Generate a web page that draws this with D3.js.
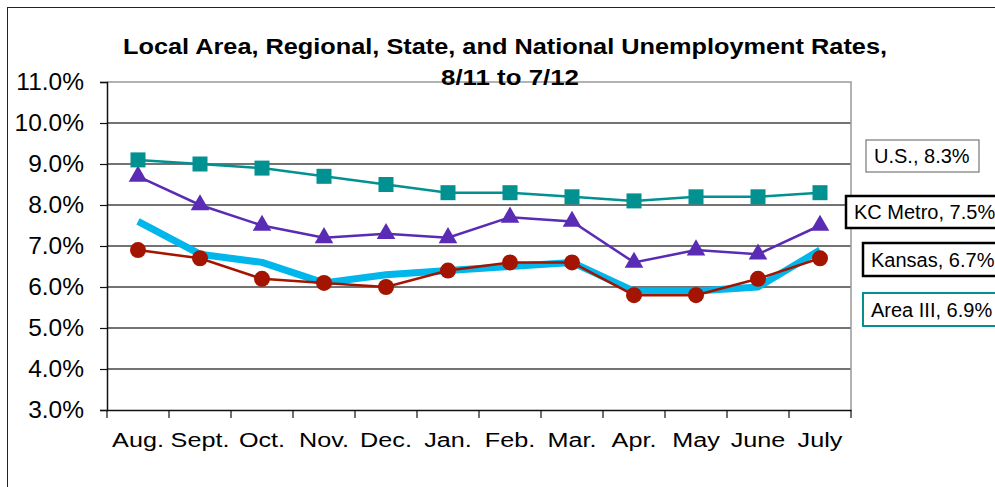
<!DOCTYPE html>
<html>
<head>
<meta charset="utf-8">
<script src="https://cdn.jsdelivr.net/npm/d3@7"></script>
<style>
body { margin: 0; background: #fff; }
text { font-family: "Liberation Sans", Arial, sans-serif; }
</style>
</head>
<body>
<svg id="chart"></svg>
<script>
var months = ["Aug.", "Sept.", "Oct.", "Nov.", "Dec.", "Jan.", "Feb.", "Mar.", "Apr.", "May", "June", "July"];
var usRate  = [9.1, 9.0, 8.9, 8.7, 8.5, 8.3, 8.3, 8.2, 8.1, 8.2, 8.2, 8.3];
var kcMetro = [8.7, 8.0, 7.5, 7.2, 7.3, 7.2, 7.7, 7.6, 6.6, 6.9, 6.8, 7.5];
var kansas  = [6.9, 6.7, 6.2, 6.1, 6.0, 6.4, 6.6, 6.6, 5.8, 5.8, 6.2, 6.7];
var areaIII = [7.6, 6.8, 6.6, 6.1, 6.3, 6.4, 6.5, 6.6, 5.9, 5.9, 6.0, 6.9];
var yTicks = [3, 4, 5, 6, 7, 8, 9, 10, 11];

var W = 995, H = 487;
var svg = d3.select("#chart").attr("width", W).attr("height", H);

// outer frame (runs off the right and bottom)
svg.append("rect")
    .attr("x", 7.5).attr("y", 7.5)
    .attr("width", W + 20).attr("height", H + 20)
    .attr("fill", "#fff").attr("stroke", "#222").attr("stroke-width", 1);

var x = d3.scaleBand().domain(months).range([107, 851]);
var y = d3.scaleLinear().domain([3, 11]).range([410, 82]);

// gridlines
svg.append("g")
    .selectAll("line")
    .data(yTicks.slice(1, -1))
    .enter()
    .append("line")
        .attr("x1", 107).attr("x2", 851)
        .attr("y1", function(d) { return y(d); })
        .attr("y2", function(d) { return y(d); })
        .attr("stroke", "#444").attr("stroke-width", 1.3);

// plot border top/right
svg.append("path")
    .attr("d", `M107,${y(11)}H851V${y(3)}`)
    .attr("fill", "none").attr("stroke", "#999").attr("stroke-width", 1.5);

// y axis
var yAxis = svg.append("g")
    .attr("transform", "translate(107,0)")
    .call(d3.axisLeft(y).tickValues(yTicks).tickSize(7).tickPadding(16)
        .tickFormat(function(d) { return d.toFixed(1) + "%"; }));
yAxis.select(".domain").attr("stroke", "#111").attr("stroke-width", 1.5);
yAxis.selectAll(".tick line").attr("stroke", "#111").attr("stroke-width", 1.2);
yAxis.selectAll("text").attr("font-size", 24.5).attr("fill", "#000")
    .attr("font-family", "'Liberation Sans', Arial, sans-serif");

// x axis
var xAxis = svg.append("g")
    .attr("transform", `translate(0,${y(3)})`)
    .call(d3.axisBottom(x).tickSize(0).tickPadding(22).tickSizeOuter(0));
xAxis.select(".domain").attr("stroke", "#111").attr("stroke-width", 1.5);
xAxis.selectAll("text").attr("font-size", 21).attr("fill", "#000")
    .attr("font-family", "'Liberation Sans', Arial, sans-serif")
    .attr("transform", "scale(1.2,1)");
xAxis.selectAll("line.bound")
    .data(months.map(function(m) { return x(m); }).concat([x.range()[1]]))
    .enter()
    .append("line")
        .attr("class", "bound")
        .attr("x1", function(d) { return d; }).attr("x2", function(d) { return d; })
        .attr("y1", 0).attr("y2", 8)
        .attr("stroke", "#111").attr("stroke-width", 1.2);

function cx(i) { return x(months[i]) + x.bandwidth() / 2; }

var line = d3.line()
    .x(function(d, i) { return cx(i); })
    .y(function(d) { return y(d); });

// Area III: thick cyan, no markers
svg.append("path")
    .datum(areaIII)
    .attr("fill", "none")
    .attr("stroke", "#00B6EA")
    .attr("stroke-width", 7)
    .attr("stroke-linejoin", "round")
    .attr("d", line);

// Kansas: red circles
svg.append("path")
    .datum(kansas)
    .attr("fill", "none")
    .attr("stroke", "#A31500")
    .attr("stroke-width", 2.5)
    .attr("d", line);
svg.append("g")
    .selectAll("circle")
    .data(kansas)
    .enter()
    .append("circle")
        .attr("cx", function(d, i) { return cx(i); })
        .attr("cy", function(d) { return y(d); })
        .attr("r", 8)
        .attr("fill", "#A31500");

// KC Metro: purple triangles
svg.append("path")
    .datum(kcMetro)
    .attr("fill", "none")
    .attr("stroke", "#5A2BB5")
    .attr("stroke-width", 2.5)
    .attr("d", line);
svg.append("g")
    .selectAll("path")
    .data(kcMetro)
    .enter()
    .append("path")
        .attr("d", d3.symbol().type(d3.symbolTriangle).size(150))
        .attr("transform", function(d, i) { return `translate(${cx(i)},${y(d)})`; })
        .attr("fill", "#5A2BB5");

// U.S.: teal squares
svg.append("path")
    .datum(usRate)
    .attr("fill", "none")
    .attr("stroke", "#009190")
    .attr("stroke-width", 2.5)
    .attr("d", line);
svg.append("g")
    .selectAll("rect")
    .data(usRate)
    .enter()
    .append("rect")
        .attr("x", function(d, i) { return cx(i) - 7.5; })
        .attr("y", function(d) { return y(d) - 7.5; })
        .attr("width", 15).attr("height", 15)
        .attr("fill", "#009190");

// series labels
var labels = [
    {text: "U.S., " + usRate[11].toFixed(1) + "%", x: 866, y: 140, w: 113, h: 32, stroke: "#777", sw: 1.2},
    {text: "KC Metro, " + kcMetro[11].toFixed(1) + "%", x: 846, y: 196, w: 175, h: 32, stroke: "#000", sw: 2.5},
    {text: "Kansas, " + kansas[11].toFixed(1) + "%", x: 863, y: 243, w: 160, h: 33, stroke: "#000", sw: 2.5},
    {text: "Area III, " + areaIII[11].toFixed(1) + "%", x: 863, y: 293, w: 160, h: 33, stroke: "#009190", sw: 2}
];
var lg = svg.append("g").selectAll("g").data(labels).enter().append("g");
lg.append("rect")
    .attr("x", function(d) { return d.x; })
    .attr("y", function(d) { return d.y; })
    .attr("width", function(d) { return d.w; })
    .attr("height", function(d) { return d.h; })
    .attr("fill", "#fff")
    .attr("stroke", function(d) { return d.stroke; })
    .attr("stroke-width", function(d) { return d.sw; });
lg.append("text")
    .attr("x", function(d) { return d.x + 8; })
    .attr("y", function(d) { return d.y + d.h / 2 + 7; })
    .attr("font-size", 20)
    .text(function(d) { return d.text; });

// title
svg.append("text")
    .attr("x", 505).attr("y", 54)
    .attr("text-anchor", "middle")
    .attr("font-size", 22).attr("font-weight", "bold")
    .attr("textLength", 764).attr("lengthAdjust", "spacingAndGlyphs")
    .text("Local Area, Regional, State, and National Unemployment Rates,");
svg.append("text")
    .attr("x", 510).attr("y", 85)
    .attr("text-anchor", "middle")
    .attr("font-size", 22).attr("font-weight", "bold")
    .attr("textLength", 138).attr("lengthAdjust", "spacingAndGlyphs")
    .text("8/11 to 7/12");
</script>
</body>
</html>
